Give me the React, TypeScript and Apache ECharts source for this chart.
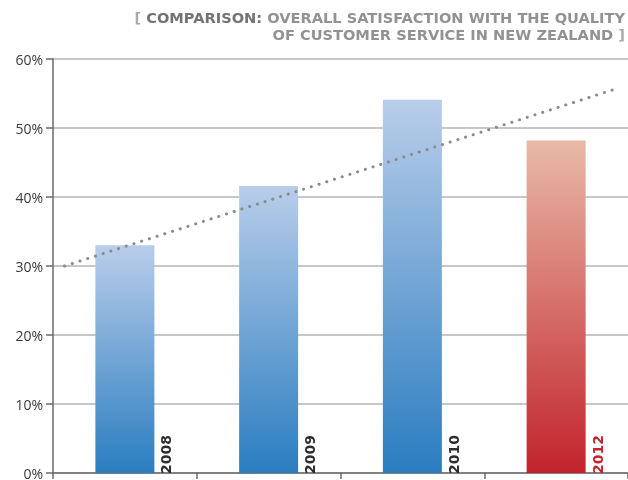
import React, { useEffect, useRef } from "react";
import * as echarts from "echarts";

// Survey years and satisfaction share (%)
const years = ["2008", "2009", "2010", "2012"];
const satisfaction = [33.0, 41.6, 54.1, 48.2];
const highlightYear = "2012";

// Trend line end points: [category position, percent]
const trendStart = [0.08, 30.0];
const trendEnd = [3.92, 55.7];

const yTicks = { min: 0, max: 60, interval: 10 };

const BLUE_TOP = "#b9cdea";
const BLUE_BOTTOM = "#2a7dc0";
const RED_TOP = "#e9baa7";
const RED_BOTTOM = "#c2232c";
const LABEL_DARK = "#2e2e2e";
const LABEL_RED = "#c8242e";

export default function App() {
  const ref = useRef<HTMLDivElement>(null);

  useEffect(() => {
    if (!ref.current) return;
    const chart = echarts.init(ref.current, null, { renderer: "svg" });

    const barData = years.map((year, i) => {
      const hot = year === highlightYear;
      return {
        value: satisfaction[i],
        itemStyle: {
          color: new echarts.graphic.LinearGradient(0, 0, 0, 1, [
            { offset: 0, color: hot ? RED_TOP : BLUE_TOP },
            { offset: 1, color: hot ? RED_BOTTOM : BLUE_BOTTOM },
          ]),
        },
        label: { color: hot ? LABEL_RED : LABEL_DARK },
      };
    });

    const titleFont = {
      fontFamily: "DejaVu Sans",
      fontSize: 14.6,
      lineHeight: 17,
      fontWeight: "bold",
      align: "right",
    };

    chart.setOption({
      animation: false,
      title: {
        text:
          "{br|[ }{b|COMPARISON:} {n|OVERALL SATISFACTION WITH THE QUALITY}\n{n|OF CUSTOMER SERVICE IN NEW ZEALAND }{br|]}",
        right: 3,
        top: 9,
        padding: 0,
        textStyle: {
          ...titleFont,
          rich: {
            br: { ...titleFont, color: "#aaaaaa" },
            b: { ...titleFont, color: "#727272" },
            n: { ...titleFont, color: "#929292" },
          },
        },
      },
      grid: { left: 53, right: -4, top: 59, bottom: 5, containLabel: false },
      xAxis: [
        {
          type: "category",
          data: years,
          axisLine: { show: true, lineStyle: { color: "#6a6a6a", width: 1.5 } },
          axisTick: { show: true, length: 6, lineStyle: { color: "#6a6a6a", width: 1.5 } },
          axisLabel: { show: false },
          splitLine: { show: false },
        },
        { type: "value", min: 0, max: 4, show: false },
      ],
      yAxis: {
        type: "value",
        min: yTicks.min,
        max: yTicks.max,
        interval: yTicks.interval,
        axisLine: { show: true, lineStyle: { color: "#6a6a6a", width: 1.5 } },
        axisTick: { show: true, length: 7, lineStyle: { color: "#6a6a6a", width: 1.5 } },
        axisLabel: {
          formatter: "{value}%",
          color: "#3a3a3a",
          fontFamily: "Open Sans",
          fontSize: 14,
          margin: 10,
        },
        splitLine: { show: true, lineStyle: { color: "#b4b4b4", width: 1.5 } },
      },
      series: [
        {
          type: "bar",
          xAxisIndex: 0,
          data: barData,
          barWidth: 59,
          label: {
            show: true,
            formatter: (p: any) => p.name,
            position: ["100%", "100%"],
            rotate: 90,
            align: "left",
            verticalAlign: "top",
            // offset is in the label's rotated frame: [up, right]
            offset: [-1, 5],
            fontFamily: "DejaVu Sans",
            fontWeight: "bold",
            fontSize: 14,
          },
          z: 2,
        },
        {
          type: "line",
          xAxisIndex: 1,
          data: [trendStart, trendEnd],
          symbol: "none",
          lineStyle: { color: "#8a8a8a", width: 3, type: [0.1, 8], cap: "round" },
          z: 3,
        },
      ],
    });

    return () => chart.dispose();
  }, []);

  return (
    <div
      ref={ref}
      style={{ position: "fixed", left: 0, top: 0, width: 628, height: 480 }}
    />
  );
}
